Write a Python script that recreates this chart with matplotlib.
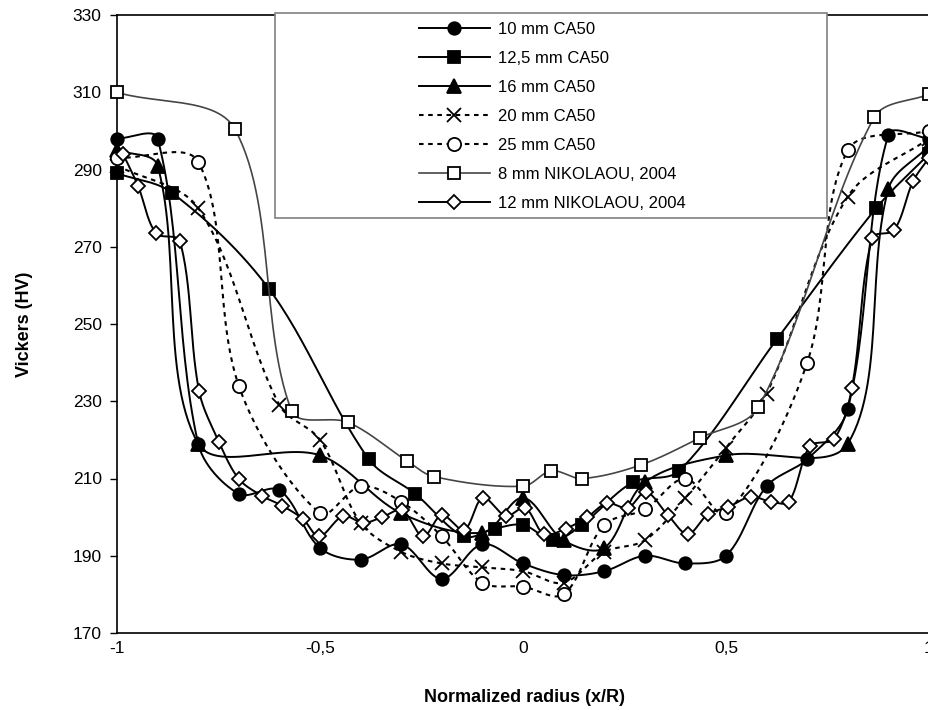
import numpy as np
import matplotlib
matplotlib.use("Agg")
import matplotlib.pyplot as plt
from matplotlib.lines import Line2D
from matplotlib.patches import Rectangle

plt.rcParams['font.family'] = ['Liberation Sans', 'DejaVu Sans']

# data
x_10 = [-1, -0.9, -0.8, -0.7, -0.6, -0.5, -0.4, -0.3, -0.2, -0.1, 0, 0.1, 0.2, 0.3, 0.4, 0.5, 0.6, 0.7, 0.8, 0.9, 1.0]
y_10 = [298, 298, 219, 206, 207, 192, 189, 193, 184, 193, 188, 185, 186, 190, 188, 190, 208, 215, 228, 299, 298]

x_125 = [-1, -0.865, -0.625, -0.38, -0.265, -0.145, -0.07, 0, 0.075, 0.145, 0.27, 0.385, 0.625, 0.87, 1.0]
y_125 = [289, 284, 259, 215, 206, 195, 197, 198, 194, 198, 209, 212, 246, 280, 294]

x_16 = [-1, -0.9, -0.8, -0.5, -0.3, -0.1, 0, 0.1, 0.2, 0.3, 0.5, 0.8, 0.9, 1.0]
y_16 = [295, 291, 219, 216, 201, 196, 205, 194, 192, 209, 216, 219, 285, 296]

x_20 = [-1, -0.8, -0.6, -0.5, -0.4, -0.3, -0.2, -0.1, 0, 0.1, 0.2, 0.3, 0.4, 0.5, 0.6, 0.8, 1.0]
y_20 = [291, 280, 229, 220, 198.5, 191, 188, 187, 186, 183, 191, 194, 205, 218, 232, 283, 298]

x_25 = [-1, -0.8, -0.7, -0.5, -0.4, -0.3, -0.2, -0.1, 0, 0.1, 0.2, 0.3, 0.4, 0.5, 0.7, 0.8, 1.0]
y_25 = [293, 292, 234, 201, 208, 204, 195, 183, 182, 180, 198, 202, 210, 201, 240, 295, 300]

x_n8 = [-1, -0.71, -0.57, -0.43, -0.285, -0.22, 0, 0.07, 0.145, 0.29, 0.435, 0.58, 0.865, 1.0]
y_n8 = [310, 300.5, 227.5, 224.5, 214.5, 210.5, 208, 212, 210, 213.5, 220.5, 228.5, 303.5, 309.5]

x_n12 = [-0.985, -0.948, -0.904, -0.845, -0.798, -0.749, -0.70, -0.643, -0.594, -0.542,
         -0.502, -0.443, -0.394, -0.347, -0.298, -0.246, -0.2, -0.145, -0.099, -0.042,
         0.005, 0.052, 0.105, 0.158, 0.207, 0.258, 0.303, 0.357, 0.406, 0.456,
         0.505, 0.561, 0.61, 0.655, 0.707, 0.766, 0.81, 0.86, 0.914, 0.961, 1.0]
y_n12 = [294, 285.7, 273.5, 271.5, 232.7, 219.5, 209.9, 205.5, 203, 199.5,
         195, 200.3, 198.5, 200, 201.8, 195, 200.5, 196.7, 205, 200.3,
         202.4, 195.6, 197, 200, 203.6, 202.4, 206.5, 200.5, 195.6, 200.8,
         202.6, 205.3, 204, 204, 218.4, 220.2, 233.4, 272.3, 274.3, 287, 293]

labels = ['10 mm CA50', '12,5 mm CA50', '16 mm CA50', '20 mm CA50', '25 mm CA50',
          '8 mm NIKOLAOU, 2004', '12 mm NIKOLAOU, 2004']
xticklabels = ['-1', '-0,5', '0', '0,5', '1']

XS, YS = 406.0, 3.8625  # px per unit, used only to shape the smoothing


def smooth(x, y, n=30):
    # smoothed line like excel: bezier segments, tangents weighted by chord length
    p = np.column_stack([np.asarray(x, float) * XS, np.asarray(y, float) * YS])
    q = np.vstack([p[0], p, p[-1]])
    out = []
    t = np.linspace(0, 1, n)[:, None]
    for i in range(len(p) - 1):
        p0, p1, p2, p3 = q[i], q[i + 1], q[i + 2], q[i + 3]
        d01 = np.hypot(*(p1 - p0))
        d12 = np.hypot(*(p2 - p1))
        d23 = np.hypot(*(p3 - p2))
        m1 = (p2 - p0) / max(d01 + d12, 1e-9)
        m2 = (p3 - p1) / max(d12 + d23, 1e-9)
        b1 = p1 + m1 * d12 / 3.0
        b2 = p2 - m2 * d12 / 3.0
        seg = ((1 - t) ** 3) * p1 + 3 * ((1 - t) ** 2) * t * b1 + 3 * (1 - t) * t ** 2 * b2 + t ** 3 * p2
        out.append(seg)
    s = np.vstack(out)
    return s[:, 0] / XS, s[:, 1] / YS


dash = (0, (2.2, 2.2))
styles = [
    dict(color='black', ls='-', lw=1.4, marker='o', ms=9, mfc='black', mec='black'),
    dict(color='black', ls='-', lw=1.4, marker='s', ms=8.5, mfc='black', mec='black'),
    dict(color='black', ls='-', lw=1.4, marker='^', ms=9.5, mfc='black', mec='black'),
    dict(color='black', ls=dash, lw=1.5, marker='x', ms=9.5, mfc='black', mec='black'),
    dict(color='black', ls=dash, lw=1.5, marker='o', ms=9.5, mfc='white', mec='black'),
    dict(color='#454545', ls='-', lw=1.2, marker='s', ms=9, mfc='white', mec='black'),
    dict(color='black', ls='-', lw=1.4, marker='D', ms=7.5, mfc='white', mec='black'),
]
data = [(x_10, y_10), (x_125, y_125), (x_16, y_16), (x_20, y_20),
        (x_25, y_25), (x_n8, y_n8), (x_n12, y_n12)]

fig = plt.figure(figsize=(9.29, 7.10), dpi=100)
ax = fig.add_axes([117 / 929, 1 - 633 / 710, 1 - 117 / 929, (633 - 15) / 710])

handles = []
for i, ((xs, ys), st) in enumerate(zip(data, styles)):
    sx, sy = smooth(xs, ys)
    ax.plot(sx, sy, color=st['color'], ls=st['ls'], lw=st['lw'], zorder=2 + i * 2)
    ax.plot(xs, ys, ls='none', marker=st['marker'], ms=st['ms'], mfc=st['mfc'],
            mec=st['mec'], mew=1.3, zorder=3 + i * 2, clip_on=False)
    handles.append(Line2D([], [], color=st['color'], ls=st['ls'], lw=st['lw'],
                          marker=st['marker'], ms=st['ms'], mfc=st['mfc'],
                          mec=st['mec'], mew=1.3))

ax.set_xlim(-1, 1)
ax.set_ylim(170, 330)
ax.set_yticks(np.arange(170, 331, 20))
ax.set_xticks([-1, -0.5, 0, 0.5, 1])
ax.set_xticklabels(xticklabels)
ax.tick_params(axis='y', direction='out', length=5, pad=6, labelsize=12.5, width=1)
ax.tick_params(axis='x', direction='out', length=0, pad=6, labelsize=12.5)
ax.spines['right'].set_visible(False)
for s in ['left', 'bottom', 'top']:
    ax.spines[s].set_linewidth(1.2)

fig.text(25 / 929, 1 - 324 / 710, 'Vickers (HV)', rotation=90, ha='center', va='center',
         fontsize=13, fontweight='bold')
fig.text(524 / 929, 1 - 697 / 710, 'Normalized radius (x/R)', ha='center', va='center',
         fontsize=13, fontweight='bold')

# legend box
box = Rectangle((275 / 929, 1 - 218 / 710), (827 - 275) / 929, (218 - 13) / 710,
                transform=fig.transFigure, facecolor='white', edgecolor='#808080',
                lw=1.2, zorder=20)
fig.add_artist(box)
leg = fig.legend(handles, labels, loc='upper center', bbox_to_anchor=(552 / 929, 1 - 10 / 710),
                 frameon=False, fontsize=12, handlelength=4.3, handletextpad=0.45,
                 labelspacing=0.84, borderpad=0.2)
leg.set_zorder(21)

fig.savefig('out.png', dpi=100)
